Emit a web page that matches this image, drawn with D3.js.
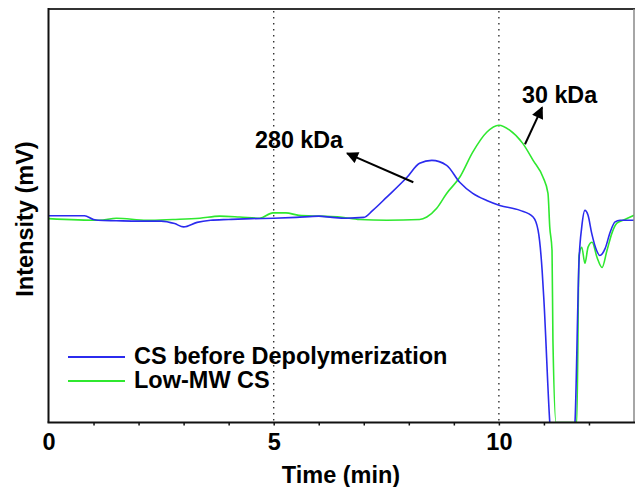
<!DOCTYPE html>
<html>
<head>
<meta charset="utf-8">
<script src="https://cdn.jsdelivr.net/npm/d3@7"></script>
<style>
  html, body { margin: 0; padding: 0; background: #fff; }
  svg { display: block; }
  text { font-family: "Liberation Sans", Arial, sans-serif; font-weight: bold; fill: #000; }
</style>
</head>
<body>
<svg id="chart" width="637" height="487"></svg>
<script>
// ---- data (time in min, intensity in arbitrary mV units) ----
const blueTime = [0, 0.8, 1.0, 1.1, 1.5, 2.0, 2.5, 2.8, 3.0, 3.3, 3.6, 4.0, 4.5, 5.0, 5.5, 6.0, 6.3, 6.6, 7.0, 7.2, 7.51, 7.96, 8.24, 8.51, 8.84, 9.13, 9.42, 9.73, 10.02, 10.47, 10.76, 10.87, 10.96, 11.0, 11.13, 11.2, 11.6, 11.69, 11.78, 11.84, 11.91, 11.98, 12.06, 12.17, 12.24, 12.36, 12.47, 12.58, 12.69, 13.0];
const blueValue = [50.0, 50.0, 49.1, 48.9, 48.8, 48.7, 48.7, 48.1, 47.3, 48.4, 48.9, 49.1, 49.3, 49.4, 49.6, 49.9, 49.6, 49.4, 49.6, 51.3, 54.5, 59.3, 62.7, 63.4, 62.2, 58.1, 55.4, 53.7, 52.5, 51.3, 49.7, 46.5, 36.8, 29.5, 0, -10, -10, 0, 39.2, 47.3, 51.3, 50.1, 45.8, 41.6, 40.4, 42.1, 46.0, 48.5, 48.9, 48.9];

const greenTime = [0, 1.13, 1.51, 2.18, 2.76, 3.36, 3.8, 4.24, 4.69, 4.98, 5.27, 5.56, 6.02, 6.47, 6.91, 7.51, 8.24, 8.4, 8.62, 8.84, 9.13, 9.42, 9.73, 10.0, 10.24, 10.53, 10.76, 10.98, 11.09, 11.13, 11.18, 11.2, 11.27, 11.73, 11.78, 11.84, 11.91, 11.98, 12.07, 12.18, 12.29, 12.4, 12.51, 12.62, 12.76, 13.0];
const greenValue = [49.3, 48.9, 49.4, 48.9, 49.1, 49.4, 49.9, 49.7, 49.4, 50.7, 50.7, 50.1, 49.9, 49.7, 49.1, 48.9, 49.1, 49.7, 51.8, 55.4, 59.3, 65.4, 70.2, 71.9, 70.7, 67.5, 63.4, 59.3, 55.4, 47.2, 41.6, 19.9, 0, 0, 40.4, 42.4, 38.5, 42.4, 43.6, 39.9, 37.5, 41.6, 45.8, 48.2, 48.9, 50.1];

const seriesNames = ["CS before Depolymerization", "Low-MW CS"];
const seriesColors = ["#2b2bee", "#2fe82f"];
const majorTicks = [0, 5, 10];
const minorTicks = [1, 2, 3, 4, 6, 7, 8, 9, 11, 12];
const gridTimes = [5, 10];
const xTitle = "Time (min)";
const yTitle = "Intensity (mV)";
const annotations = [
  { label: "280 kDa", time: 8.1, value: 58.1, tipTime: 6.63, tipValue: 65.1 },
  { label: "30 kDa", time: 10.58, value: 67.3, tipTime: 10.96, tipValue: 76.2 }
];

// ---- layout ----
const svg = d3.select("#chart");
const L = 48.5, R = 634, T = 9, B = 422.5;
const x = d3.scaleLinear().domain([0, 13]).range([L, R]);
const y = d3.scaleLinear().domain([0, 100]).range([B, T]);

const defs = svg.append("defs");
defs.append("clipPath").attr("id", "plotclip")
  .append("rect").attr("x", L).attr("y", T).attr("width", R - L).attr("height", B - T);
defs.append("marker")
  .attr("id", "arrow").attr("viewBox", "0 0 10 10").attr("refX", 9).attr("refY", 5)
  .attr("markerWidth", 13).attr("markerHeight", 12).attr("markerUnits", "userSpaceOnUse")
  .attr("orient", "auto")
  .append("path").attr("d", "M0,0 L10,5 L0,10 Z").attr("fill", "#000");

// gridlines
svg.selectAll("line.grid").data(gridTimes).enter().append("line")
  .attr("class", "grid")
  .attr("x1", d => x(d)).attr("x2", d => x(d))
  .attr("y1", T + 2).attr("y2", B)
  .attr("stroke", "#333").attr("stroke-width", 1.4)
  .attr("stroke-dasharray", "1.4,4.6");

// lines
const line = d3.line().x(d => x(d[0])).y(d => y(d[1])).curve(d3.curveMonotoneX);
const blueData = blueTime.map((t, i) => [t, blueValue[i]]);
const greenData = greenTime.map((t, i) => [t, greenValue[i]]);
const g = svg.append("g").attr("clip-path", "url(#plotclip)");
g.append("path").datum(greenData).attr("d", line)
  .attr("fill", "none").attr("stroke", seriesColors[1]).attr("stroke-width", 1.6);
g.append("path").datum(blueData).attr("d", line)
  .attr("fill", "none").attr("stroke", seriesColors[0]).attr("stroke-width", 1.6);

// frame
svg.append("line").attr("x1", L).attr("x2", R + 1).attr("y1", T).attr("y2", T)
  .attr("stroke", "#333").attr("stroke-width", 2);
svg.append("line").attr("x1", R).attr("x2", R).attr("y1", T).attr("y2", B)
  .attr("stroke", "#888").attr("stroke-width", 1.5);
svg.append("line").attr("x1", L).attr("x2", L).attr("y1", T - 1).attr("y2", B)
  .attr("stroke", "#111").attr("stroke-width", 2);

// x axis
const xAxis = d3.axisBottom(x).tickValues(majorTicks).tickSize(3).tickPadding(8)
  .tickFormat(d3.format("d"));
const ax = svg.append("g").attr("transform", `translate(0,${B})`).call(xAxis);
ax.select(".domain").attr("stroke", "#111").attr("stroke-width", 2)
  .attr("d", `M${L - 1},0H${R + 1}`);
ax.selectAll(".tick line").attr("stroke", "#111").attr("stroke-width", 1.5);
ax.selectAll(".tick").filter(d => d === 0).select("line").remove();
ax.selectAll(".tick text").style("font-family", '"Liberation Sans", Arial, sans-serif')
  .style("font-weight", "bold").style("font-size", "23.5px").attr("fill", "#000").attr("dy", "0.71em");
const axMinor = d3.axisBottom(x).tickValues(minorTicks).tickSize(3).tickFormat("");
const am = svg.append("g").attr("transform", `translate(0,${B})`).call(axMinor);
am.select(".domain").remove();
am.selectAll(".tick line").attr("stroke", "#111").attr("stroke-width", 1.5);

// axis titles
svg.append("text").attr("x", 341).attr("y", 483).attr("text-anchor", "middle")
  .style("font-size", "23.5px").text(xTitle);
svg.append("text").attr("transform", "translate(33,219) rotate(-90)").attr("text-anchor", "middle")
  .style("font-size", "23.5px").text(yTitle);

// annotations
const ann = svg.append("g");
ann.append("text").attr("x", 255).attr("y", 148).style("font-size", "23.3px").text(annotations[0].label);
ann.append("text").attr("x", 522).attr("y", 103).style("font-size", "23.3px").text(annotations[1].label);
annotations.forEach(a => {
  ann.append("line")
    .attr("x1", x(a.time)).attr("y1", y(a.value))
    .attr("x2", x(a.tipTime)).attr("y2", y(a.tipValue))
    .attr("stroke", "#000").attr("stroke-width", 2)
    .attr("marker-end", "url(#arrow)");
});

// legend
const leg = svg.append("g");
seriesNames.forEach((name, i) => {
  const yy = 357 + i * 24;
  leg.append("line").attr("x1", 68).attr("x2", 125).attr("y1", yy).attr("y2", yy)
    .attr("stroke", seriesColors[i]).attr("stroke-width", 2);
  leg.append("text").attr("x", 134).attr("y", yy + 6.5)
    .style("font-size", "23.5px").text(name);
});
</script>
</body>
</html>
